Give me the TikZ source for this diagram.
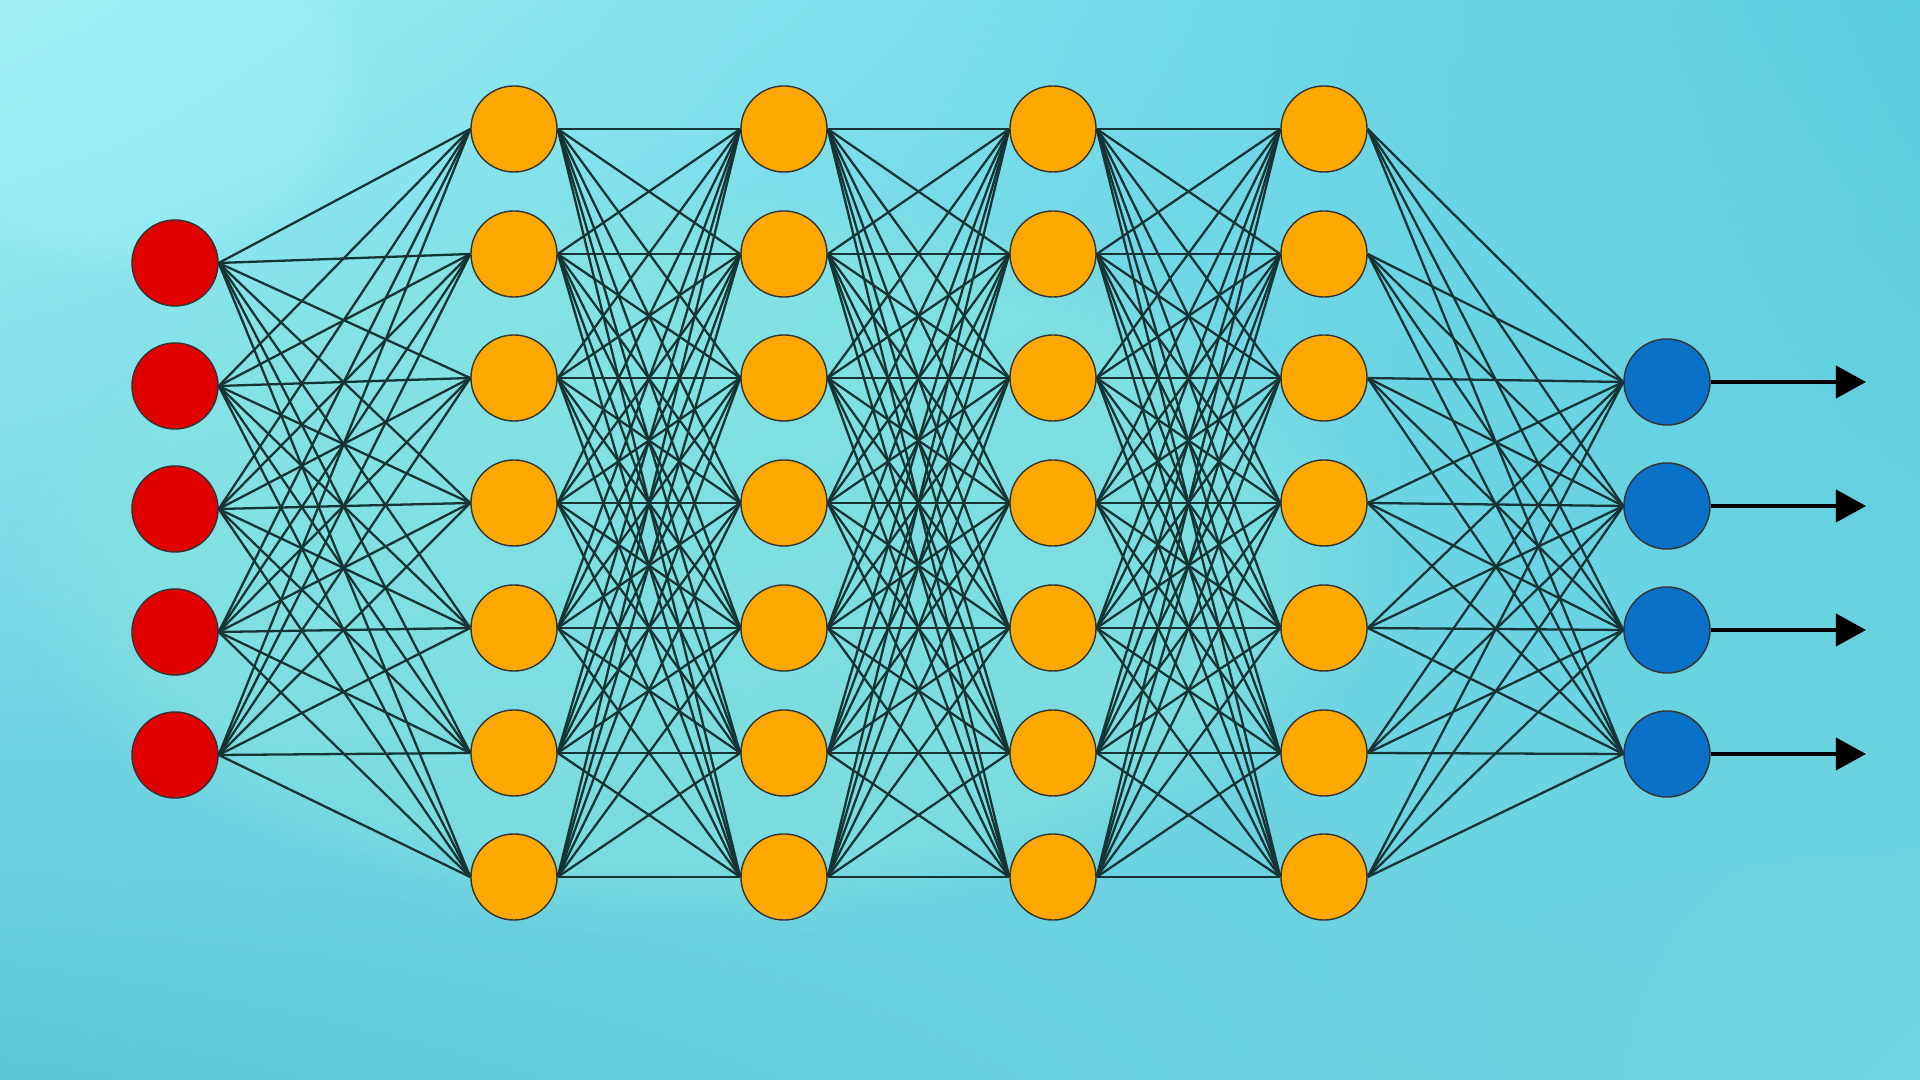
\documentclass[tikz,border=0pt]{standalone}
\usepackage{tikz}
\usetikzlibrary{arrows.meta,fadings,shadings}

\definecolor{inred}{HTML}{E00000}
\definecolor{hidorange}{HTML}{FDA800}
\definecolor{outblue}{HTML}{0A70C8}
\definecolor{linkgray}{HTML}{163436}
\definecolor{seaA}{HTML}{9EF0F4}
\definecolor{seaB}{HTML}{58CCE0}
\definecolor{seaC}{HTML}{5CC6DA}
\definecolor{seaD}{HTML}{72D6E0}
\definecolor{seaE}{HTML}{88E6E0}

\begin{document}
\begin{tikzpicture}[x=0.01cm,y=-0.01cm,
  neuron/.style={circle,draw=black!80,line width=0.4pt,minimum size=0.86cm,inner sep=0pt},
  inputn/.style={neuron,fill=inred},
  hiddenn/.style={neuron,fill=hidorange},
  outputn/.style={neuron,fill=outblue},
  link/.style={draw=linkgray,line width=0.65pt},
  outarrow/.style={draw=black,line width=1.1pt,-{Triangle[length=0.3cm,width=0.32cm]}}]

% Background
\useasboundingbox (0,0) rectangle (1920,1080);
\shade[upper left=seaA,upper right=seaB,lower left=seaC,lower right=seaD] (0,0) rectangle (1920,1080);
\fill[seaE,path fading=circle with fuzzy edge 20 percent,opacity=0.55] (700,560) ellipse (700 and 380);
\fill[seaA,path fading=circle with fuzzy edge 20 percent,opacity=0.5] (120,80) ellipse (260 and 200);

% Input layer
\foreach \y [count=\i] in {263,386,509,632,755}
  \node[inputn] (in\i) at (175,\y) {};

% Hidden layers
\foreach \x [count=\l] in {514,784,1053,1324}
  \foreach \y [count=\i] in {129,254,378,503,628,753,877}
    \node[hiddenn] (h\l-\i) at (\x,\y) {};

% Output layer
\foreach \y [count=\i] in {382,506,630,754} {
  \node[outputn] (out\i) at (1667,\y) {};
  \coordinate (tip\i) at (1866,\y);
}

% Connections
\foreach \i in {1,...,5}
  \foreach \j in {1,...,7}
    \draw[link] (in\i.east) -- (h1-\j.west);
\foreach \l/\m in {1/2,2/3,3/4}
  \foreach \i in {1,...,7}
    \foreach \j in {1,...,7}
      \draw[link] (h\l-\i.east) -- (h\m-\j.west);
\foreach \i in {1,...,7}
  \foreach \j in {1,...,4}
    \draw[link] (h4-\i.east) -- (out\j.west);

% Outputs
\foreach \i in {1,...,4}
  \draw[outarrow] (out\i.east) -- (tip\i);
\end{tikzpicture}
\end{document}
